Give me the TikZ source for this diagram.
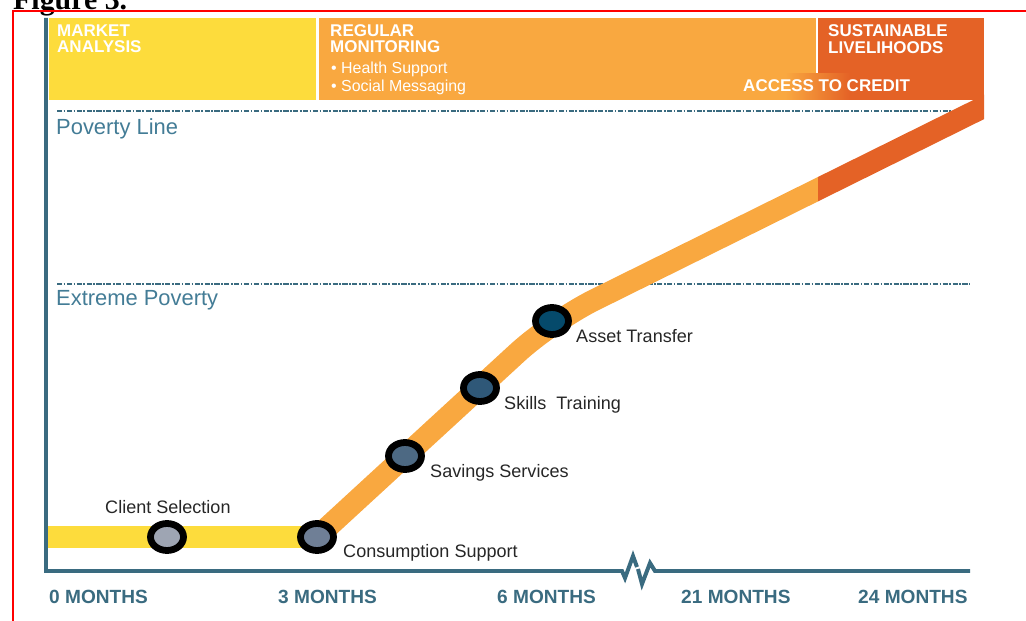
\documentclass[tikz,border=0pt]{standalone}
\usepackage{fontspec}
\setmainfont{Liberation Sans}
\newfontfamily\figfont{Liberation Serif}
\usetikzlibrary{shapes.geometric}
\definecolor{axisteal}{HTML}{3A6B80}
\definecolor{leveltext}{HTML}{437C96}
\definecolor{bandyellow}{HTML}{FDDC3C}
\definecolor{bandorange}{HTML}{F9A840}
\definecolor{banddark}{HTML}{E46226}
\definecolor{labelgray}{HTML}{262626}
\definecolor{dotA}{HTML}{9EA5B3}
\definecolor{dotB}{HTML}{6F7F96}
\definecolor{dotC}{HTML}{4D6983}
\definecolor{dotD}{HTML}{2F5878}
\definecolor{dotE}{HTML}{054A6B}
\begin{document}
\begin{tikzpicture}[x=0.03cm,y=-0.03cm,
    bannerhead/.style={anchor=base west, inner sep=0, text=white, font=\bfseries\fontsize{14.5}{14.5}\selectfont},
    bannerbullet/.style={anchor=base west, inner sep=0, text=white, font=\fontsize{13.6}{14}\selectfont},
    levellabel/.style={anchor=base west, inner sep=0, text=leveltext, font=\fontsize{18.7}{20}\selectfont},
    steplabel/.style={anchor=base west, inner sep=0, text=labelgray, font=\fontsize{15.4}{16}\selectfont},
    monthlabel/.style={anchor=base west, inner sep=0, text=axisteal, font=\bfseries\fontsize{16.3}{17}\selectfont},
    milestone/.style={ellipse, draw=black, line width=5.8pt, minimum width=0.99cm, minimum height=0.81cm, inner sep=0},
    levelline/.style={axisteal, line width=2.3pt, dash pattern=on 4.4pt off 1.3pt on 1.4pt off 1.3pt},
    band/.style={line width=18.7pt}]
  \useasboundingbox (0,0) rectangle (1026,621);
  \clip (0,0) rectangle (1026,621);
  \node[anchor=base west, inner sep=0, font=\figfont\bfseries\fontsize{25.5}{26}\selectfont] (figtitle) at (13,10) {Figure 3.};
  \draw[red, line width=1.5pt] (13,11) rectangle (1040,640);

  \fill[bandyellow] (49,18) rectangle (316,100);
  \fill[bandorange] (319,18) rectangle (816,100);
  \fill[banddark] (818,18) rectangle (984,100);
  \shade[left color=bandorange, right color=banddark] (785,74) rectangle (850,100);
  \node[bannerhead] (market1) at (57,37) {MARKET};
  \node[bannerhead] (market2) at (57,53) {ANALYSIS};
  \node[bannerhead] (monitor1) at (330,37) {REGULAR};
  \node[bannerhead] (monitor2) at (330,53) {MONITORING};
  \node[bannerbullet] (health) at (331,74) {• Health Support};
  \node[bannerbullet] (social) at (331,92) {• Social Messaging};
  \node[bannerhead] (sustain1) at (828,37) {SUSTAINABLE};
  \node[bannerhead] (sustain2) at (828,54) {LIVELIHOODS};
  \node[bannerhead] (credit) at (743,92) {ACCESS TO CREDIT};

  \draw[levelline] (57,111) -- (975,111);
  \draw[levelline] (57,284) -- (970,284);
  \node[levellabel] (povline) at (56,135) {Poverty Line};
  \node[levellabel] (extreme) at (56,305) {Extreme Poverty};

  \draw[axisteal, line width=3.4pt] (46,18) -- (46,571) -- (622,571) -- (625,578) -- (633,556) -- (637,567);
  \draw[axisteal, line width=3.4pt] (638,569) -- (642,584) -- (650,563) -- (655,571) -- (970,571);

  \coordinate (pclient) at (167,537);
  \coordinate (pcons) at (317,537);
  \coordinate (psav) at (405,456);
  \coordinate (pskill) at (480,388);
  \coordinate (passet) at (552,321);
  \coordinate (pend) at (1000,99);

  \draw[band, bandyellow] (48,537) -- (pcons);
  \begin{scope}
    \clip (0,0) rectangle (818,621);
    \draw[band, bandorange, rounded corners=40] (pcons) -- (passet) -- (pend);
  \end{scope}
  \begin{scope}
    \clip (818,0) rectangle (984,621);
    \draw[band, banddark, rounded corners=40] (pcons) -- (passet) -- (pend);
  \end{scope}

  \node[milestone, fill=dotA] (client) at (pclient) {};
  \node[milestone, fill=dotB] (cons) at (pcons) {};
  \node[milestone, fill=dotC] (sav) at (psav) {};
  \node[milestone, fill=dotD] (skill) at (pskill) {};
  \node[milestone, fill=dotE] (asset) at (passet) {};
  \node[steplabel] (clientlab) at (105,513) {Client Selection};
  \node[steplabel] (conslab) at (343,557) {Consumption Support};
  \node[steplabel] (savlab) at (430,477) {Savings Services};
  \node[steplabel] (skilllab) at (504,409) {Skills\ \ Training};
  \node[steplabel] (assetlab) at (576,342) {Asset Transfer};

  \node[monthlabel] (m0) at (49,603) {0 MONTHS};
  \node[monthlabel] (m3) at (278,603) {3 MONTHS};
  \node[monthlabel] (m6) at (497,603) {6 MONTHS};
  \node[monthlabel] (m21) at (681,603) {21 MONTHS};
  \node[monthlabel] (m24) at (858,603) {24 MONTHS};
\end{tikzpicture}
\end{document}
